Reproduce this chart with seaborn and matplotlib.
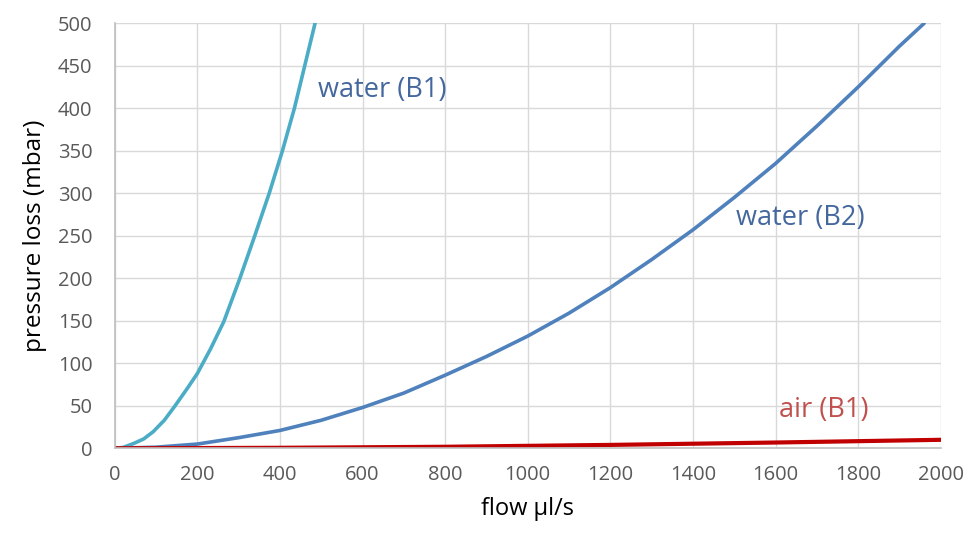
import pandas as pd
import seaborn as sns
import matplotlib.pyplot as plt

# values (flow in µl/s, pressure loss in mbar)
water_b1_flow = [0, 20, 45, 70, 93, 120, 146, 175, 200, 232, 264, 303, 339, 374, 406, 435, 460, 485]
water_b1_loss = [0, 1, 5.5, 11, 19.5, 33, 50, 70, 88, 117, 149, 200, 250, 300, 350, 400, 450, 500]

water_b2_flow = [0, 100, 200, 300, 400, 500, 600, 700, 800, 900, 1000, 1100,
                 1200, 1300, 1400, 1500, 1600, 1700, 1800, 1900, 1960]
water_b2_loss = [0, 1.3, 5, 12.5, 21, 33, 48, 65, 86, 108, 132, 159,
                 189, 222, 257, 295, 335, 379, 425, 473, 500]

air_b1_flow = [0, 400, 800, 1200, 1600, 2000]
air_b1_loss = [0, 0.6, 1.8, 4, 6.8, 10]

x_ticks = list(range(0, 2001, 200))
y_ticks = list(range(0, 501, 50))


def main():
    sns.set_theme(style="whitegrid")
    plt.rcParams['font.family'] = ['Open Sans', 'DejaVu Sans']

    fig = plt.figure(figsize=(9.66, 5.33), dpi=100)
    ax = fig.add_axes([0.1188, 0.1589, 0.855, 0.7974])

    b1 = pd.DataFrame({"flow": water_b1_flow, "loss": water_b1_loss})
    b2 = pd.DataFrame({"flow": water_b2_flow, "loss": water_b2_loss})
    air = pd.DataFrame({"flow": air_b1_flow, "loss": air_b1_loss})

    sns.lineplot(data=b1, x="flow", y="loss", ax=ax, color="#4bacc6",
                 linewidth=2.6, sort=False, solid_capstyle="round",
                 solid_joinstyle="round")
    sns.lineplot(data=b2, x="flow", y="loss", ax=ax, color="#4f81bd",
                 linewidth=2.6, sort=False, solid_capstyle="round",
                 solid_joinstyle="round")
    sns.lineplot(data=air, x="flow", y="loss", ax=ax, color="#c00000",
                 linewidth=3.0, sort=False)

    ax.set_xlim(0, 2000)
    ax.set_ylim(0, 500)
    ax.set_xticks(x_ticks)
    ax.set_yticks(y_ticks)

    ax.grid(True, color="#d9d9d9", linewidth=1.0)
    ax.set_facecolor("white")
    for side in ["top", "right"]:
        ax.spines[side].set_visible(False)
    for side in ["left", "bottom"]:
        ax.spines[side].set_color("#bfbfbf")
        ax.spines[side].set_linewidth(1.2)

    ax.tick_params(axis="both", length=0, labelsize=14.5, labelcolor="#595959")
    ax.tick_params(axis="x", pad=12)
    ax.tick_params(axis="y", pad=16)

    ax.set_xlabel("flow µl/s", fontsize=17, color="black", labelpad=9)
    ax.set_ylabel("pressure loss (mbar)", fontsize=17.5, color="black", labelpad=8)

    ax.text(491, 421, "water (B1)", fontsize=19.5, color="#44689e", va="center")
    ax.text(1504, 271, "water (B2)", fontsize=19.5, color="#44689e", va="center")
    ax.text(1609, 45, "air (B1)", fontsize=19.5, color="#c0504d", va="center")

    fig.savefig("out.png", dpi=100)


if __name__ == "__main__":
    main()
